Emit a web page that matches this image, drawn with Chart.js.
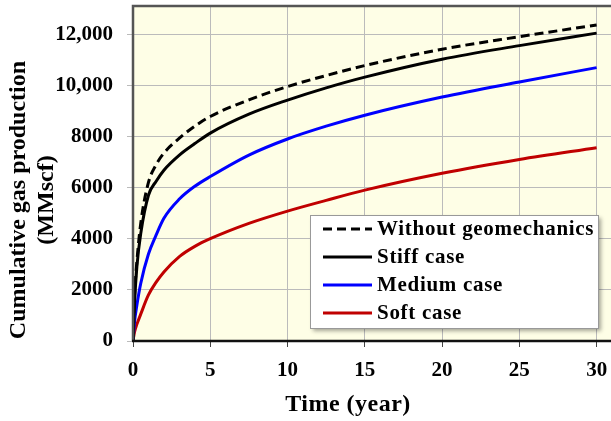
<!DOCTYPE html>
<html>
<head>
<meta charset="utf-8">
<script src="https://cdn.jsdelivr.net/npm/chart.js@4.4.1/dist/chart.umd.min.js"></script>
<style>
  html, body { margin: 0; padding: 0; background: #fff; }
  #wrap { width: 611px; height: 421px; }
</style>
</head>
<body>
<div id="wrap"><canvas id="grafico" width="611" height="421"></canvas></div>
<script>
// anos e produção acumulada (MMscf)
const anos = [0, 0.1, 0.25, 0.5, 1, 1.5, 2, 3, 4, 5, 7.5, 10, 12.5, 15, 20, 25, 30];
const semGeomecanica = [0, 1800, 3100, 4600, 6200, 6900, 7350, 7930, 8400, 8780, 9430, 9950, 10380, 10770, 11410, 11900, 12360];
const casoRigido = [0, 1500, 2900, 4200, 5700, 6250, 6680, 7270, 7720, 8130, 8870, 9420, 9900, 10320, 11020, 11550, 12040];
const casoMedio = [0, 750, 1400, 2250, 3400, 4150, 4800, 5550, 6050, 6430, 7270, 7900, 8400, 8830, 9540, 10130, 10690];
const casoMacio = [0, 350, 650, 1050, 1800, 2300, 2700, 3300, 3700, 4000, 4600, 5080, 5500, 5900, 6560, 7100, 7560];

const legendas = ['Without geomechanics', 'Stiff case', 'Medium case', 'Soft case'];
const ticksX = [0, 5, 10, 15, 20, 25, 30];
const ticksY = [0, 2000, 4000, 6000, 8000, 10000, 12000];

const FONTE = '"Liberation Serif", "Times New Roman", serif';

const pontos = (valores) => anos.map((a, i) => ({ x: a, y: valores[i] }));

// tira o espaço extra que o Chart.js reserva para os rótulos nas pontas
const semPadding = (s) => {
  s.paddingTop = 0;
  s.paddingBottom = 0;
  s.paddingLeft = 0;
  s.paddingRight = 0;
};

// fundo creme e moldura da área do gráfico
const moldura = {
  id: 'moldura',
  beforeDraw(chart) {
    const { ctx, chartArea: a } = chart;
    ctx.save();
    ctx.fillStyle = '#fefee6';
    ctx.fillRect(a.left, a.top, a.right - a.left, a.bottom - a.top);
    ctx.restore();
  },
  afterDatasetsDraw(chart) {
    const { ctx, chartArea: a } = chart;
    ctx.save();
    ctx.strokeStyle = '#555';
    ctx.lineWidth = 2.5;
    ctx.beginPath();
    ctx.moveTo(a.left, a.bottom);
    ctx.lineTo(a.left, a.top);
    ctx.lineTo(a.right + 2, a.top);
    ctx.stroke();
    ctx.strokeStyle = '#111';
    ctx.beginPath();
    ctx.moveTo(a.left - 1, a.bottom);
    ctx.lineTo(a.right, a.bottom);
    ctx.stroke();
    ctx.restore();
  }
};

// legenda dentro da área do gráfico
const legendaCaixa = {
  id: 'legendaCaixa',
  afterDraw(chart) {
    const { ctx } = chart;
    const x0 = 310, y0 = 215, w = 288, h = 113;
    ctx.save();
    ctx.shadowColor = 'rgba(0,0,0,0.35)';
    ctx.shadowBlur = 4;
    ctx.shadowOffsetX = 3;
    ctx.shadowOffsetY = 3;
    ctx.fillStyle = '#fff';
    ctx.fillRect(x0, y0, w, h);
    ctx.shadowColor = 'transparent';
    ctx.strokeStyle = '#999';
    ctx.lineWidth = 1;
    ctx.strokeRect(x0 + 0.5, y0 + 0.5, w, h);
    chart.data.datasets.forEach((ds, i) => {
      const y = 229 + i * 28;
      ctx.strokeStyle = ds.borderColor;
      ctx.lineWidth = 3;
      ctx.setLineDash(ds.borderDash || []);
      ctx.beginPath();
      ctx.moveTo(323, y);
      ctx.lineTo(372, y);
      ctx.stroke();
      ctx.setLineDash([]);
      ctx.fillStyle = '#000';
      ctx.font = 'bold 21px ' + FONTE;
      ctx.letterSpacing = '0.7px';
      ctx.textBaseline = 'middle';
      ctx.textAlign = 'left';
      ctx.fillText(ds.label, 377, y + 1);
    });
    ctx.restore();
  }
};

// títulos dos eixos
const titulos = {
  id: 'titulos',
  afterDraw(chart) {
    const { ctx } = chart;
    ctx.save();
    ctx.fillStyle = '#000';
    ctx.font = 'bold 24px ' + FONTE;
    ctx.letterSpacing = '0.5px';
    ctx.textAlign = 'center';
    ctx.textBaseline = 'alphabetic';
    ctx.fillText('Time (year)', 348, 411);
    ctx.letterSpacing = '0px';
    ctx.translate(0, 200);
    ctx.rotate(-Math.PI / 2);
    ctx.fillText('Cumulative gas production', 0, 25);
    ctx.fillText('(MMscf)', 0, 53);
    ctx.restore();
  }
};

const grafico = new Chart(document.getElementById('grafico'), {
  type: 'line',
  data: {
    datasets: [
      { label: legendas[0], data: pontos(semGeomecanica), borderColor: '#000', borderDash: [9, 5] },
      { label: legendas[1], data: pontos(casoRigido), borderColor: '#000' },
      { label: legendas[2], data: pontos(casoMedio), borderColor: '#0000ff' },
      { label: legendas[3], data: pontos(casoMacio), borderColor: '#c00000' }
    ]
  },
  options: {
    responsive: false,
    animation: false,
    layout: { padding: { top: 6, right: 0, left: 0, bottom: 0 } },
    elements: {
      point: { radius: 0 },
      line: { borderWidth: 3, cubicInterpolationMode: 'monotone', fill: false }
    },
    plugins: {
      legend: { display: false },
      tooltip: { enabled: false }
    },
    scales: {
      x: {
        type: 'linear',
        min: 0,
        max: 30.93,
        afterBuildTicks: (s) => { s.ticks = ticksX.map((v) => ({ value: v })); },
        afterFit: (s) => { s.height = 80; semPadding(s); },
        grid: { color: '#bbb', borderDash: [4, 3], tickLength: 6, tickColor: '#444' },
        border: { display: false },
        ticks: { color: '#000', font: { family: FONTE, size: 21, weight: 'bold' }, padding: 11, maxRotation: 0 }
      },
      y: {
        min: 0,
        max: 13100,
        afterBuildTicks: (s) => { s.ticks = ticksY.map((v) => ({ value: v })); },
        afterFit: (s) => { s.width = 133; semPadding(s); },
        grid: { color: '#bbb', borderDash: [4, 3], tickLength: 6, tickColor: '#bbb' },
        border: { display: false },
        ticks: {
          color: '#000',
          font: { family: FONTE, size: 21, weight: 'bold' },
          padding: 14,
          callback: (v) => (v >= 10000 ? v.toLocaleString('en-US') : String(v))
        }
      }
    }
  },
  plugins: [moldura, legendaCaixa, titulos]
});
</script>
</body>
</html>
